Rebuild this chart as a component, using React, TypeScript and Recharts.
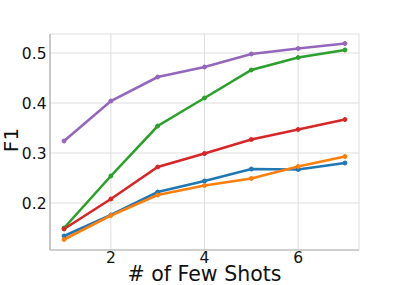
import React from "react";
import {
  LineChart,
  Line,
  CartesianGrid,
  XAxis,
  YAxis,
  Label,
} from "recharts";

const shots = [1, 2, 3, 4, 5, 6, 7];
const blue = [0.134, 0.176, 0.222, 0.244, 0.268, 0.267, 0.28];
const orange = [0.127, 0.175, 0.216, 0.235, 0.249, 0.273, 0.293];
const green = [0.15, 0.254, 0.354, 0.41, 0.466, 0.491, 0.506];
const red = [0.148, 0.208, 0.272, 0.299, 0.327, 0.347, 0.367];
const purple = [0.324, 0.404, 0.452, 0.472, 0.498, 0.509, 0.519];

const xTicks = [2, 4, 6];
const yTicks = [0.2, 0.3, 0.4, 0.5];

const data = shots.map((s, i) => ({
  shots: s,
  blue: blue[i],
  orange: orange[i],
  green: green[i],
  red: red[i],
  purple: purple[i],
}));

const series = [
  { key: "blue", color: "#1f77b4" },
  { key: "orange", color: "#ff7f0e" },
  { key: "green", color: "#2ca02c" },
  { key: "red", color: "#d62728" },
  { key: "purple", color: "#9467bd" },
];

const font = "DejaVu Sans";
const spine = "#b0b0b0";

// rotated "F1" label, placed relative to the y axis box
const YLabel = (props: any) => {
  const vb = props.viewBox || { x: 0, y: 0, height: 0 };
  const x = vb.x + 18;
  const y = vb.y + vb.height / 2 - 2;
  return (
    <text
      x={x}
      y={y}
      transform={`rotate(-90 ${x} ${y})`}
      textAnchor="middle"
      fill="#111"
      fontSize={20}
      fontFamily={font}
    >
      F1
    </text>
  );
};

const App: React.FC = () => {
  return (
    <div style={{ position: "absolute", left: 0, top: 0 }}>
      <LineChart
        width={399}
        height={285}
        data={data}
        margin={{ top: 34, right: 40, left: 0, bottom: 0 }}
      >
        <CartesianGrid stroke="#dedede" strokeWidth={1} />
        <XAxis
          dataKey="shots"
          type="number"
          domain={[0.7, 7.3]}
          ticks={xTicks}
          height={35}
          tickLine={false}
          tickSize={1}
          tickMargin={1}
          axisLine={{ stroke: spine, strokeWidth: 1.2 }}
          tick={{ fill: "#111", fontSize: 15.5, fontFamily: font }}
        >
          <Label
            value="# of Few Shots"
            position="insideBottom"
            offset={4}
            style={{ fill: "#111", fontSize: 20.5, fontFamily: font }}
          />
        </XAxis>
        <XAxis
          xAxisId="top"
          orientation="top"
          dataKey="shots"
          type="number"
          domain={[0.7, 7.3]}
          height={0}
          tick={false}
          tickLine={false}
          axisLine={{ stroke: spine, strokeWidth: 1.2 }}
        />
        <YAxis
          type="number"
          domain={[0.106, 0.538]}
          ticks={yTicks}
          width={50}
          tickLine={false}
          tickSize={2}
          tickMargin={1.5}
          axisLine={{ stroke: spine, strokeWidth: 1.2 }}
          tick={{ fill: "#111", fontSize: 15.5, fontFamily: font }}
        >
          <Label content={YLabel} />
        </YAxis>
        <YAxis
          yAxisId="right"
          orientation="right"
          domain={[0.106, 0.538]}
          width={0}
          tick={false}
          tickLine={false}
          axisLine={{ stroke: spine, strokeWidth: 1.2 }}
        />
        {series.map((s) => (
          <Line
            key={s.key}
            dataKey={s.key}
            stroke={s.color}
            strokeWidth={2.6}
            dot={{ r: 2, fill: s.color, stroke: s.color, strokeWidth: 1 }}
            isAnimationActive={false}
          />
        ))}
      </LineChart>
    </div>
  );
};

export default App;
